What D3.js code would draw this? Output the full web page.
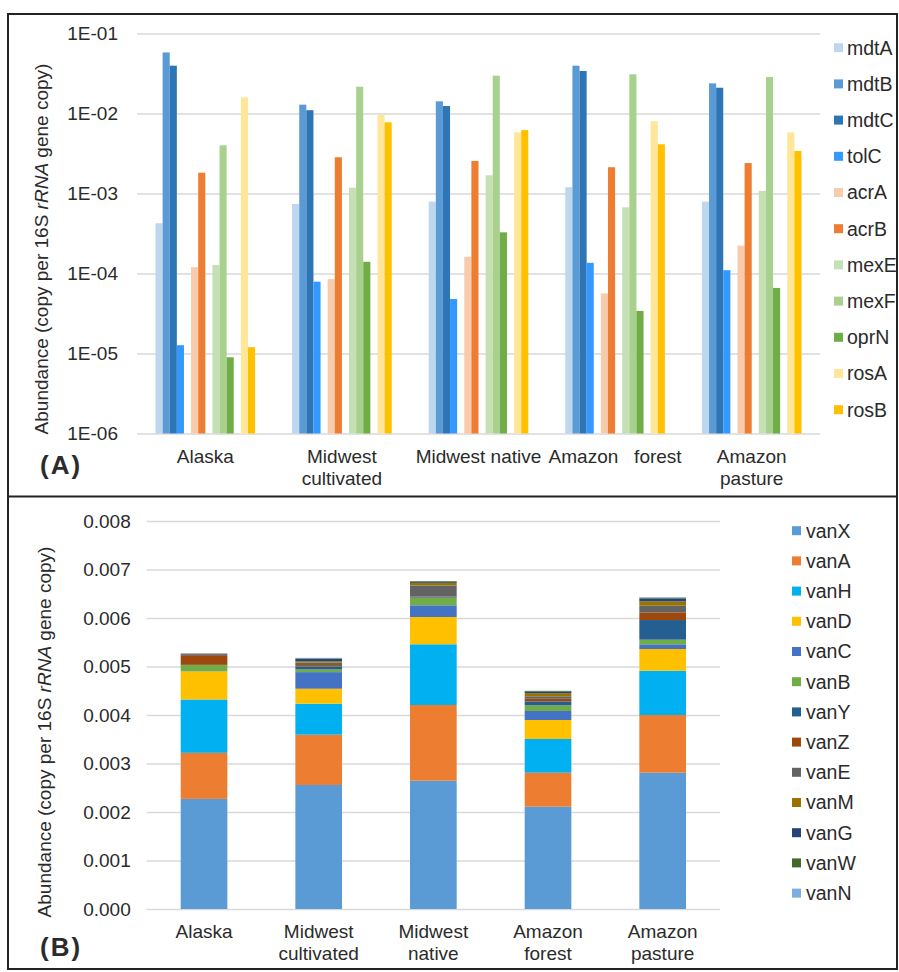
<!DOCTYPE html>
<html lang="en">

<head>
    <script src="https://cdnjs.cloudflare.com/ajax/libs/d3/7.8.5/d3.min.js"></script>
    <style>
        body { margin: 0; background: #fff; }
        text { font-family: "Liberation Sans", Arial, sans-serif; fill: #2b2b2b; }
    </style>
</head>

<body>
    <script>
        var W = 899;
        var H = 972;

        // sites (same for both panels)
        var sites = ["Alaska", "Midwest cultivated", "Midwest native", "Amazon forest", "Amazon pasture"];
        var siteLinesA = [["Alaska"], ["Midwest", "cultivated"], ["Midwest native"], ["Amazon   forest"], ["Amazon", "pasture"]];
        var siteLinesB = [["Alaska"], ["Midwest", "cultivated"], ["Midwest", "native"], ["Amazon", "forest"], ["Amazon", "pasture"]];

        // panel A: efflux genes (copy per 16S rRNA gene copy), one value per site
        var effluxGenes = ["mdtA", "mdtB", "mdtC", "tolC", "acrA", "acrB", "mexE", "mexF", "oprN", "rosA", "rosB"];
        var effluxSlots = ["mdtA", "mdtB", "mdtC", "tolC", "gap1", "acrA", "acrB", "gap2", "mexE", "mexF", "oprN", "gap3", "rosA", "rosB"];
        var mdtA = [4.25e-4, 7.4e-4, 7.9e-4, 1.2e-3, 7.9e-4];
        var mdtB = [5.8e-2, 1.29e-2, 1.42e-2, 3.96e-2, 2.38e-2];
        var mdtC = [3.96e-2, 1.1e-2, 1.24e-2, 3.4e-2, 2.1e-2];
        var tolC = [1.27e-5, 7.9e-5, 4.8e-5, 1.36e-4, 1.1e-4];
        var acrA = [1.2e-4, 8.5e-5, 1.62e-4, 5.65e-5, 2.23e-4];
        var acrB = [1.82e-3, 2.84e-3, 2.55e-3, 2.13e-3, 2.4e-3];
        var mexE = [1.28e-4, 1.18e-3, 1.69e-3, 6.72e-4, 1.08e-3];
        var mexF = [4.0e-3, 2.16e-2, 2.97e-2, 3.09e-2, 2.86e-2];
        var oprN = [8.97e-6, 1.4e-4, 3.27e-4, 3.4e-5, 6.6e-5];
        var rosA = [1.59e-2, 9.6e-3, 5.82e-3, 7.99e-3, 5.82e-3];
        var rosB = [1.2e-5, 7.76e-3, 6.2e-3, 4.12e-3, 3.4e-3];
        var effluxColors = ["#bdd7ee", "#5b9bd5", "#2e75b6", "#3399ff", "#f8cbad", "#ed7d31", "#c5e0b4", "#a9d18e", "#70ad47", "#ffe699", "#ffc000"];
        var tickValuesA = [1e-6, 1e-5, 1e-4, 1e-3, 1e-2, 1e-1];
        var tickLabelsA = ["1E-06", "1E-05", "1E-04", "1E-03", "1E-02", "1E-01"];

        // panel B: vancomycin resistance genes, stacked
        var vanGenes = ["vanX", "vanA", "vanH", "vanD", "vanC", "vanB", "vanY", "vanZ", "vanE", "vanM", "vanG", "vanW", "vanN"];
        var vanX = [0.00227, 0.002557, 0.002645, 0.002109, 0.00281];
        var vanA = [0.00095, 0.001037, 0.001561, 0.000701, 0.00119];
        var vanH = [0.0011, 0.000639, 0.001252, 0.000695, 0.000913];
        var vanD = [0.00058, 0.000309, 0.000563, 0.000392, 0.000448];
        var vanC = [0.000005, 0.000342, 0.000241, 0.000186, 0.000096];
        var vanB = [0.000124, 0.000055, 0.000158, 0.000117, 0.000096];
        var vanY = [0.000005, 0.00006, 0.00002, 0.00008, 0.000405];
        var vanZ = [0.0002, 0.00003, 0.00001, 0.000055, 0.000158];
        var vanE = [0.000005, 0.00005, 0.00022, 0.00005, 0.000137];
        var vanM = [0.000005, 0.00003, 0.000055, 0.000065, 0.000089];
        var vanG = [0.00002, 0.00005, 0.00002, 0.00003, 0.000062];
        var vanW = [0.000003, 0.00001, 0.000015, 0.000015, 0.000015];
        var vanN = [0.000002, 0.00001, 0.000003, 0.000006, 0.000008];
        var vanColors = ["#5b9bd5", "#ed7d31", "#00b0f0", "#ffc000", "#4472c4", "#70ad47", "#255e91", "#9e480e", "#636363", "#997300", "#264478", "#43682b", "#7cafdd"];
        var tickValuesB = [0, 0.001, 0.002, 0.003, 0.004, 0.005, 0.006, 0.007, 0.008];
        var tickLabelsB = ["0.000", "0.001", "0.002", "0.003", "0.004", "0.005", "0.006", "0.007", "0.008"];

        var effluxSeries = [mdtA, mdtB, mdtC, tolC, acrA, acrB, mexE, mexF, oprN, rosA, rosB];
        var vanSeries = [vanX, vanA, vanH, vanD, vanC, vanB, vanY, vanZ, vanE, vanM, vanG, vanW, vanN];

        var svg = d3.select("body").append("svg")
            .attr("width", W)
            .attr("height", H);

        // frame around both panels
        svg.append("rect")
            .attr("x", 8).attr("y", 14)
            .attr("width", 889).attr("height", 955)
            .attr("fill", "none").attr("stroke", "#222").attr("stroke-width", 2);
        svg.append("line")
            .attr("x1", 8).attr("x2", 897)
            .attr("y1", 496.5).attr("y2", 496.5)
            .attr("stroke", "#222").attr("stroke-width", 2);

        function yTitle(g, x, y) {
            var t = g.append("text")
                .attr("transform", "translate(" + x + "," + y + ") rotate(-90)")
                .attr("text-anchor", "middle")
                .attr("dy", "0.35em")
                .attr("font-size", "19px");
            t.append("tspan").text("Abundance (copy per 16S ");
            t.append("tspan").attr("font-style", "italic").text("rRNA");
            t.append("tspan").text(" gene copy)");
        }

        function categoryLabels(g, x, lines, y0) {
            sites.forEach(function (s, i) {
                var t = g.append("text")
                    .attr("text-anchor", "middle")
                    .attr("font-size", "19px")
                    .style("white-space", "pre");
                lines[i].forEach(function (ln, j) {
                    t.append("tspan")
                        .attr("x", x(s) + x.bandwidth() / 2)
                        .attr("y", y0 + j * 22)
                        .text(ln);
                });
            });
        }

        // ---------- panel A ----------
        var gA = svg.append("g");
        var xA = d3.scaleBand().domain(sites).range([137, 820]).paddingInner(0.271).paddingOuter(0.1355);
        var xSlot = d3.scaleBand().domain(effluxSlots).range([0, xA.bandwidth()]);
        var yA = d3.scaleLog().domain([1e-6, 1e-1]).range([433.5, 33.5]);

        gA.append("g")
            .attr("transform", "translate(137,0)")
            .call(d3.axisLeft(yA).tickValues(tickValuesA).tickFormat(function (d, i) { return tickLabelsA[i]; })
                .tickSize(-(820 - 137)).tickPadding(19))
            .call(function (g) {
                g.select(".domain").remove();
                g.selectAll(".tick line").attr("stroke", "#d9d9d9").attr("stroke-width", 1.5);
                g.selectAll(".tick text").attr("font-size", "19px").attr("font-family", "Liberation Sans, Arial, sans-serif").attr("fill", "#2b2b2b");
            });

        effluxGenes.forEach(function (gene, k) {
            gA.append("g").selectAll("rect")
                .data(effluxSeries[k])
                .enter()
                .append("rect")
                .attr("x", function (d, i) { return xA(sites[i]) + xSlot(gene); })
                .attr("width", xSlot.bandwidth())
                .attr("y", function (d) { return yA(d); })
                .attr("height", function (d) { return yA(1e-6) - yA(d); })
                .attr("fill", effluxColors[k]);
        });

        categoryLabels(gA, xA, siteLinesA, 463);
        yTitle(gA, 41, 249);

        gA.append("text").attr("x", 40).attr("y", 474)
            .attr("font-size", "26px").attr("font-weight", "bold")
            .attr("letter-spacing", "2px").attr("fill", "#111").text("(A)");

        var legA = gA.selectAll(".legA").data(effluxGenes).enter().append("g")
            .attr("transform", function (d, i) { return "translate(834," + (47.7 + i * 36.2) + ")"; });
        legA.append("rect").attr("x", 0).attr("y", -4.5).attr("width", 9).attr("height", 9)
            .attr("fill", function (d, i) { return effluxColors[i]; });
        legA.append("text").attr("x", 13).attr("dy", "0.35em").attr("font-size", "19.5px").text(function (d) { return d; });

        // ---------- panel B ----------
        var gB = svg.append("g");
        var xB = d3.scaleBand().domain(sites).range([146.7, 720]).paddingInner(0.593).paddingOuter(0.2965);
        var yB = d3.scaleLinear().domain([0, 0.008]).range([909, 521]);

        gB.append("g")
            .attr("transform", "translate(146.7,0)")
            .call(d3.axisLeft(yB).tickValues(tickValuesB).tickFormat(function (d, i) { return tickLabelsB[i]; })
                .tickSize(-(720 - 146.7)).tickPadding(16))
            .call(function (g) {
                g.select(".domain").remove();
                g.selectAll(".tick line").attr("stroke", "#d9d9d9").attr("stroke-width", 1.5);
                g.selectAll(".tick text").attr("font-size", "19px").attr("font-family", "Liberation Sans, Arial, sans-serif").attr("fill", "#2b2b2b");
            });

        var rows = sites.map(function (s, i) {
            var r = { site: s };
            vanGenes.forEach(function (g, k) { r[g] = vanSeries[k][i]; });
            return r;
        });
        var stacked = d3.stack().keys(vanGenes)(rows);

        gB.append("g").selectAll("g")
            .data(stacked)
            .enter()
            .append("g")
            .attr("fill", function (d, k) { return vanColors[k]; })
            .selectAll("rect")
            .data(function (d) { return d; })
            .enter()
            .append("rect")
            .attr("x", function (d) { return xB(d.data.site); })
            .attr("width", xB.bandwidth())
            .attr("y", function (d) { return yB(d[1]); })
            .attr("height", function (d) { return yB(d[0]) - yB(d[1]); });

        categoryLabels(gB, xB, siteLinesB, 938);
        yTitle(gB, 44, 732);

        gB.append("text").attr("x", 40).attr("y", 956)
            .attr("font-size", "26px").attr("font-weight", "bold")
            .attr("letter-spacing", "2px").attr("fill", "#111").text("(B)");

        var legB = gB.selectAll(".legB").data(vanGenes).enter().append("g")
            .attr("transform", function (d, i) { return "translate(792," + (530.7 + i * 30.2) + ")"; });
        legB.append("rect").attr("x", 0).attr("y", -4.5).attr("width", 9).attr("height", 9)
            .attr("fill", function (d, i) { return vanColors[i]; });
        legB.append("text").attr("x", 14).attr("dy", "0.35em").attr("font-size", "19.5px").text(function (d) { return d; });
    </script>
</body>

</html>
